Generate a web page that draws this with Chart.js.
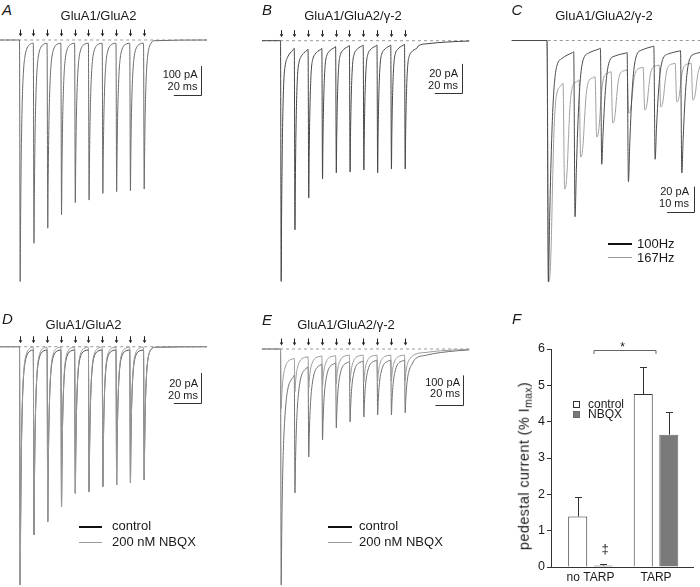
<!DOCTYPE html>
<html><head><meta charset="utf-8">
<script src="https://cdn.jsdelivr.net/npm/chart.js@4.4.1/dist/chart.umd.min.js"></script>
<style>
body{margin:0;background:#fff;width:700px;height:587px;overflow:hidden;position:relative;font-family:"Liberation Sans",Arial,Helvetica,sans-serif;color:#1a1a1a}
canvas{position:absolute}
.t{position:absolute;white-space:nowrap;line-height:1}
.ln{position:absolute;height:0}
.sw{position:absolute;box-sizing:border-box;width:7px;height:7px}
.yt{position:absolute;white-space:nowrap;line-height:1;transform:translate(-50%,-50%) rotate(-90deg);font-size:14.5px;letter-spacing:0.4px}
.yt sub{font-size:0.72em;vertical-align:-0.3em;line-height:0}
</style></head><body>
<script>
// ---------------- DATA ----------------
// Panel A: GluA1/GluA2, 100 Hz train (ms, pA)
const pulseTimesA = [0,10,20,30,40,50,60,70,80,90];
const peaksA  = [-833,-701,-649,-603,-561,-552,-529,-523,-520,-514];
const levelsA = [-11,-11,-11,-11,-11,-11,-11,-11,-11,0];

// Panel B: GluA1/GluA2/γ-2, 100 Hz train
const pulseTimesB = [0,10,20,30,40,50,60,70,80,90];
const peaksB  = [-166,-130.5,-108.5,-95.4,-91.2,-90.6,-89.2,-91.2,-88.5,-88.5];
const levelsB = [-5.3,-5.9,-5.3,-4.1,-3.4,-3.0,-3.0,-3.0,-2.5,-4.5];
const tailTimesB  = [100,106.4,120.9,137];
const tailLevelsB = [-3.6,-2.1,-0.9,-0.2];

// Panel C: GluA1/GluA2/γ-2, 100 Hz vs 167 Hz
const pulseTimesC100 = [0,10,20,30,40,50];
const peaksC100  = [-193,-141,-99,-113,-95,-106];
const levelsC100 = [-9,-6.2,-9.7,-4.4,-8.1,-7.6];
const pulseTimesC167 = [0,6,12,18,24,30,36,42,48,54];
const peaksC167  = [-193,-118.8,-93.2,-77.2,-66,-58,-55.6,-53.2,-49.2,-47.6];
const levelsC167 = [-34.2,-31.6,-29,-25,-23.4,-21.4,-19.6,-18.2,-18.2,-18.2];

// Panel D: GluA1/GluA2, control vs 200 nM NBQX
const pulseTimesD = [0,10,20,30,40,50,60,70,80,90];
const peaksDctl  = [-158.9,-125.5,-116.7,-106.7,-97.7,-96.7,-93.3,-92.2,-90.7,-88.9];
const levelsDctl = [-2.2,-2.2,-2.2,-2.2,-2.2,-2.2,-2.2,-2.2,-2.2,0];
const peaksDnbqx  = [-158.9,-125.5,-116.7,-106.7,-97.7,-96.7,-93.3,-92.2,-90.7,-88.9];
const levelsDnbqx = [-0.3,-0.3,-0.3,-0.3,-0.3,-0.3,-0.3,-0.3,-0.3,0];

// Panel E: GluA1/GluA2/γ-2, control vs 200 nM NBQX
const pulseTimesE = [0,10,20,30,40,50,60,70,80,90];
const peaksEctl  = [-787,-480,-360,-303,-263,-243,-227,-220,-220,-213];
const levelsEctl = [-87,-59,-50,-46,-42,-40,-37,-37,-37,-40];
const tailTimesEctl  = [97,106.4,116,128,137];
const tailLevelsEctl = [-37,-20,-12,-6,-3];
const peaksEnbqx  = [-198,-142,-131,-123,-117,-112,-109,-107,-106,-106];
const levelsEnbqx = [-31,-25.6,-23,-22,-20,-20,-20,-20,-20,-20];
const tailTimesEnbqx  = [97,106.4,116,137];
const tailLevelsEnbqx = [-19,-11,-6,-1];

// Decay shapes: time after peak (ms) and fraction of amplitude remaining
const decayNoTarpT = [0.3,0.7,1.2,1.8,2.6,3.6,5,7];
const decayNoTarpF = [0.75,0.5,0.32,0.19,0.1,0.05,0.02,0.005];
const decayTarpT = [0.3,0.7,1.2,1.9,3,4.5,6.5,8.5];
const decayTarpF = [0.72,0.47,0.28,0.14,0.07,0.04,0.02,0.008];
const decayC100T = [0.5,1,1.5,2,2.6,3.5,5,7,9];
const decayC100F = [0.72,0.48,0.3,0.18,0.1,0.05,0.03,0.015,0.004];
const decayC167T = [0.5,1.0,1.5,2.0,2.6,3.3,4.5];
const decayC167F = [0.97,0.8,0.5,0.25,0.1,0.04,0.015];
const decayET = [0.4,1,1.7,2.5,3.5,5,7,9];
const decayEF = [0.75,0.5,0.33,0.22,0.13,0.06,0.025,0.006];

// Panel F: pedestal current (% Imax)
const categoriesF = ['no TARP','TARP'];
const controlF = [1.39,4.76];
const nbqxF    = [0.04,3.64];
const errControlF = [0.54,0.75];
const errNbqxF    = [0.04,0.63];
const yTicksF = [0,1,2,3,4,5,6];

// ---------------- BUILD ----------------
Chart.defaults.font.family = '"Liberation Sans", Arial, Helvetica, sans-serif';

function buildTrace(tStart, tEnd, pulses, peaks, levels, rise, tT, tF, tailT, tailV){
  const pts=[{x:tStart,y:0}];
  let prev=0;
  for(let i=0;i<pulses.length;i++){
    const t=pulses[i];
    const next = i+1<pulses.length ? pulses[i+1] : (tailT && tailT.length ? tailT[0] : tEnd);
    pts.push({x:t,y:prev});
    const tp=t+rise, L=levels[i];
    pts.push({x:tp,y:peaks[i]});
    for(let k=0;k<tT.length;k++){
      const tt=tp+tT[k];
      if(tt<next-0.2) pts.push({x:tt,y:L+(peaks[i]-L)*tF[k]});
    }
    prev=L;
  }
  if(tailT && tailT.length){ for(let k=0;k<tailT.length;k++) pts.push({x:tailT[k],y:tailV[k]}); }
  else pts.push({x:tEnd,y:prev});
  return pts;
}
function lineDs(points,color,width,order,dash){
  return {data:points,borderColor:color,borderWidth:width,order:order,borderDash:dash||[],pointRadius:0,fill:false,
          cubicInterpolationMode: dash?'default':'monotone', tension:0};
}

function traceChart(L, datasets, pulseTimes, bar){
  const c=document.createElement('canvas');
  c.width=L.w; c.height=L.h; c.style.left=L.left+'px'; c.style.top=L.top+'px';
  document.body.appendChild(c);
  const xMin=(L.left-L.x0)/L.pxms, xMax=(L.left+L.w-L.x0)/L.pxms;
  const yMax=(L.base-L.top)/L.pxu, yMin=-(L.top+L.h-L.base)/L.pxu;
  const marks={
    id:'marks'+L.left+'_'+L.top,
    afterDatasetsDraw(chart){
      const ctx=chart.ctx, xs=chart.scales.x, ys=chart.scales.y;
      ctx.save();
      const b=ys.getPixelForValue(0);
      ctx.strokeStyle='#222'; ctx.fillStyle='#222'; ctx.lineWidth=1;
      (pulseTimes||[]).forEach(t=>{
        const x=Math.round(xs.getPixelForValue(t))+0.5;
        ctx.beginPath(); ctx.moveTo(x,b-10.5); ctx.lineTo(x,b-6); ctx.stroke();
        ctx.beginPath(); ctx.moveTo(x-1.8,b-6.5); ctx.lineTo(x+1.8,b-6.5); ctx.lineTo(x,b-3.5); ctx.closePath(); ctx.fill();
      });
      if(bar){
        const x1=Math.round(xs.getPixelForValue(bar.t))+0.5, x0=xs.getPixelForValue(bar.t-bar.dt);
        const y1=Math.round(ys.getPixelForValue(bar.v))+0.5, y0=ys.getPixelForValue(bar.v+bar.dv);
        ctx.strokeStyle='#333';
        ctx.beginPath(); ctx.moveTo(x0,y1); ctx.lineTo(x1,y1); ctx.lineTo(x1,y0); ctx.stroke();
      }
      ctx.restore();
    }
  };
  return new Chart(c,{
    type:'line', data:{datasets},
    options:{responsive:false,animation:false,events:[],devicePixelRatio:1,layout:{padding:0},
      scales:{x:{type:'linear',display:false,min:xMin,max:xMax},y:{type:'linear',display:false,min:yMin,max:yMax}},
      plugins:{legend:{display:false},tooltip:{enabled:false}}},
    plugins:[marks]
  });
}

const layA={left:0,top:20,w:215,h:270,x0:19.5,pxms:1.378,base:40,pxu:0.29};
const layB={left:240,top:20,w:235,h:270,x0:280.5,pxms:1.378,base:40.7,pxu:1.45};
const layC={left:505,top:20,w:195,h:270,x0:547,pxms:2.67,base:40.5,pxu:1.25};
const layD={left:0,top:325,w:215,h:262,x0:19.5,pxms:1.378,base:346.7,pxu:1.5};
const layE={left:240,top:325,w:235,h:262,x0:280.5,pxms:1.378,base:349,pxu:0.3};

const base=(a,b)=>[{x:a,y:0},{x:b,y:0}];

traceChart(layA,[
  lineDs(buildTrace(-14,136,pulseTimesA,peaksA,levelsA,0.5,decayNoTarpT,decayNoTarpF),'#6a6a6a',1,0),
  lineDs(base(-14,136),'#9a9a9a',1,5,[3,3])
],pulseTimesA,{t:132,v:-190,dt:20,dv:100});

traceChart(layB,[
  lineDs(buildTrace(-13.4,137,pulseTimesB,peaksB,levelsB,0.5,decayTarpT,decayTarpF,tailTimesB,tailLevelsB),'#454545',1,0),
  lineDs(base(-13.4,137),'#9a9a9a',1,5,[3,3])
],pulseTimesB,{t:132,v:-36,dt:20,dv:20});

traceChart(layC,[
  lineDs(buildTrace(-13.2,58,pulseTimesC100,peaksC100,levelsC100,0.5,decayC100T,decayC100F),'#4a4a4a',1,0),
  lineDs(buildTrace(-13.2,58,pulseTimesC167,peaksC167,levelsC167,0.6,decayC167T,decayC167F),'#a0a0a0',1,1),
  lineDs(base(-13.2,58),'#9a9a9a',1,5,[3,3])
],null,{t:55,v:-137,dt:10,dv:20});

traceChart(layD,[
  lineDs(buildTrace(-14,136,pulseTimesD,peaksDnbqx,levelsDnbqx,0.5,decayNoTarpT,decayNoTarpF),'#9a9a9a',1,0),
  lineDs(buildTrace(-14,136,pulseTimesD,peaksDctl,levelsDctl,0.5,decayNoTarpT,decayNoTarpF),'#444',1,1),
  lineDs(base(-14,136),'#9a9a9a',1,5,[3,3])
],pulseTimesD,{t:132,v:-37.5,dt:20,dv:20});

traceChart(layE,[
  lineDs(buildTrace(-13.4,137,pulseTimesE,peaksEnbqx,levelsEnbqx,0.5,decayET,decayEF,tailTimesEnbqx,tailLevelsEnbqx),'#9a9a9a',1,0),
  lineDs(buildTrace(-13.4,137,pulseTimesE,peaksEctl,levelsEctl,0.5,decayET,decayEF,tailTimesEctl,tailLevelsEctl),'#707070',1,1),
  lineDs(base(-13.4,137),'#9a9a9a',1,5,[3,3])
],pulseTimesE,{t:132.4,v:-188,dt:20,dv:100});

// ---------- Panel F bar chart ----------
(function(){
  const c=document.createElement('canvas');
  c.width=210; c.height=257; c.style.left='490px'; c.style.top='330px';
  document.body.appendChild(c);
  const errPlugin={
    id:'errBars',
    afterDatasetsDraw(chart){
      const ctx=chart.ctx, ys=chart.scales.y, xs=chart.scales.x;
      ctx.save(); ctx.strokeStyle='#333'; ctx.lineWidth=1;
      chart.data.datasets.forEach((ds,di)=>{
        chart.getDatasetMeta(di).data.forEach((el,i)=>{
          const v=ds.data[i].y, e=ds.errors[i];
          const x=Math.round(el.x)+0.5;
          const y0=ys.getPixelForValue(v), y1=Math.round(ys.getPixelForValue(v+e))+0.5;
          ctx.beginPath(); ctx.moveTo(x,y0); ctx.lineTo(x,y1);
          ctx.moveTo(x-3.5,y1); ctx.lineTo(x+3.5,y1); ctx.stroke();
        });
      });
      // significance bracket
      const bx0=xs.getPixelForValue(0.053), bx1=xs.getPixelForValue(1.0), by=Math.round(ys.getPixelForValue(5.96))+0.5;
      ctx.strokeStyle='#666';
      ctx.beginPath(); ctx.moveTo(bx0,by+3.5); ctx.lineTo(bx0,by); ctx.lineTo(bx1,by); ctx.lineTo(bx1,by+3.5); ctx.stroke();
      ctx.restore();
    }
  };
  new Chart(c,{
    type:'bar',
    data:{datasets:[
      {label:'control',data:controlF.map((v,i)=>({x:i,y:v})),errors:errControlF,backgroundColor:'#ffffff',borderColor:'#333',borderWidth:1},
      {label:'NBQX',data:nbqxF.map((v,i)=>({x:i,y:v})),errors:errNbqxF,backgroundColor:'#7a7a7a',borderColor:'#6a6a6a',borderWidth:1}
    ]},
    options:{
      responsive:false,animation:false,events:[],devicePixelRatio:1,
      layout:{padding:{top:19,right:7,left:0,bottom:0}},
      datasets:{bar:{categoryPercentage:0.78,barPercentage:0.745}},
      scales:{
        x:{type:'linear',min:-0.603,max:1.565,offset:false,
           afterBuildTicks:s=>{s.ticks=categoriesF.map((_,i)=>({value:i}));},
           afterFit:s=>{s.height=20;},
           grid:{display:false,drawTicks:false,offset:false},
           border:{display:true,color:'#333',width:1},
           ticks:{callback:v=>categoriesF[v],font:{size:12},color:'#1a1a1a',padding:3,maxRotation:0,autoSkip:false}},
        y:{type:'linear',min:0,max:6,
           afterBuildTicks:s=>{s.ticks=yTicksF.map(v=>({value:v}));},
           afterFit:s=>{s.width=61;},
           grid:{drawOnChartArea:false,drawTicks:true,tickLength:4,color:'#333'},
           border:{display:true,color:'#333',width:1},
           ticks:{font:{size:12.5},color:'#1a1a1a',padding:2}}
      },
      plugins:{legend:{display:false},tooltip:{enabled:false}}
    },
    plugins:[errPlugin]
  });
})();

// ---------- Text & legends ----------
function addText(t,x,b,size,align,italic){
  const d=document.createElement('div'); d.className='t'; d.textContent=t;
  d.style.fontSize=size+'px'; d.style.top=(b-0.8465*size)+'px'; d.style.left=x+'px';
  if(align==='center') d.style.transform='translateX(-50%)';
  if(align==='right') d.style.transform='translateX(-100%)';
  if(italic) d.style.fontStyle='italic';
  document.body.appendChild(d);
}
function addLine(x0,x1,y,w,color){
  const d=document.createElement('div'); d.className='ln';
  d.style.left=x0+'px'; d.style.width=(x1-x0)+'px'; d.style.top=(y-w/2)+'px';
  d.style.borderTop=w+'px solid '+color; document.body.appendChild(d);
}
function addSwatch(x,y,fill,border){
  const d=document.createElement('div'); d.className='sw';
  d.style.left=x+'px'; d.style.top=y+'px'; d.style.background=fill; d.style.border='1px solid '+border;
  document.body.appendChild(d);
}
const texts=[
  ['A',2,15,15,'left',true],['GluA1/GluA2',98.5,20.5,13,'center'],
  ['B',262,15,15,'left',true],['GluA1/GluA2/γ-2',353,20.5,13,'center'],
  ['C',511.5,15,15,'left',true],['GluA1/GluA2/γ-2',604,20.5,13,'center'],
  ['D',2,323.5,15,'left',true],['GluA1/GluA2',83.5,329,13,'center'],
  ['E',262,325,15,'left',true],['GluA1/GluA2/γ-2',346,329,13,'center'],
  ['F',512,323.5,15,'left',true],
  ['100 pA',197.5,78.5,11,'right'],['20 ms',197.5,90.5,11,'right'],
  ['20 pA',458,77.5,11,'right'],['20 ms',458,89.5,11,'right'],
  ['20 pA',689,195.5,11,'right'],['10 ms',689,207.5,11,'right'],
  ['20 pA',198,387,11,'right'],['20 ms',198,399,11,'right'],
  ['100 pA',460,386,11,'right'],['20 ms',460,397.5,11,'right'],
  ['100Hz',637,248.5,13,'left'],['167Hz',637,262.5,13,'left'],
  ['control',112,530.5,13,'left'],['200 nM NBQX',112,546,13,'left'],
  ['control',359,530.5,13,'left'],['200 nM NBQX',359,546,13,'left'],
  ['control',588,408.3,12,'left'],['NBQX',588,418.5,12,'left'],
  ['*',622.7,351,12,'center'],['‡',605,553,13,'center']
];
texts.forEach(a=>addText(...a));
addLine(608,632,244,2,'#111'); addLine(608,632,258,1.5,'#9a9a9a');
addLine(79,102,526.5,2,'#111'); addLine(79,102,542.5,1.5,'#9a9a9a');
addLine(328,352,526.5,2,'#111'); addLine(328,352,542.5,1.5,'#9a9a9a');
addSwatch(572.5,401,'#fff','#333'); addSwatch(572.5,411,'#7a7a7a','#6a6a6a');
const yt=document.createElement('div'); yt.className='yt';
yt.innerHTML='pedestal current (% I<sub>max</sub>)';
yt.style.left='524px'; yt.style.top='466px'; document.body.appendChild(yt);
</script>
</body></html>
